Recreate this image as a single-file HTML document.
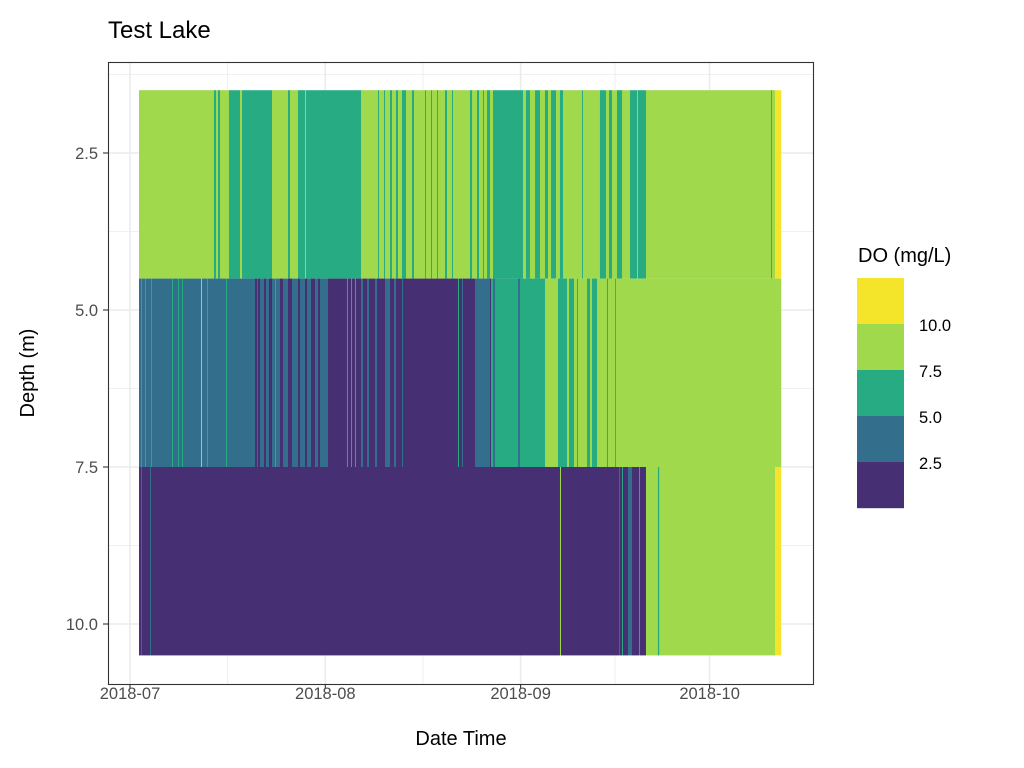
<!DOCTYPE html>
<html><head><meta charset="utf-8"><style>
html,body{margin:0;padding:0;background:#fff;}
svg{display:block;font-family:"Liberation Sans",sans-serif;}
</style></head><body>
<svg id="chart" width="1024" height="768">
<rect x="0" y="0" width="1024" height="768" fill="#fff"/>
<text x="108" y="38" font-size="24" fill="#000">Test Lake</text>
<g id="grid"></g>
<g id="tiles"></g>
<rect x="108.5" y="62.5" width="705" height="622" fill="none" stroke="#333" stroke-width="1.1"/>
<g id="axes"></g>
<text x="461" y="745" font-size="20" text-anchor="middle" fill="#000">Date Time</text>
<text transform="translate(34,373) rotate(-90)" font-size="20" text-anchor="middle" fill="#000">Depth (m)</text>
<g id="legend">
<text x="858" y="262" font-size="20" fill="#000">DO (mg/L)</text>
</g>
</svg>
<script>
const palette = ["#462F72","#336F8C","#27AB82","#A0D94B","#F4E52B"];
const legendLabels = ["10.0","7.5","5.0","2.5"];
const depths = [3, 6, 9];
const endDay = 103.33;
const xTickDays = [0, 31, 62, 92];
const xTickLabels = ["2018-07","2018-08","2018-09","2018-10"];
const xMinorDays = [15.5, 46.5, 77];
const yTicks = [2.5, 5.0, 7.5, 10.0];
const yTickLabels = ["2.5","5.0","7.5","10.0"];
const yMinor = [1.25, 3.75, 6.25, 8.75];
// [startDay, class] change points, days since 2018-07-01
const row3m = [[1.43,3],[13.33,2],[13.65,3],[13.97,2],[14.29,3],[15.71,2],[17.46,3],[17.78,2],[22.54,3],[25.08,2],[25.40,3],[26.67,2],[27.78,3],[27.94,2],[36.67,3],[39.37,2],[39.52,3],[40.32,2],[40.48,3],[41.27,2],[41.59,3],[42.22,2],[42.54,3],[43.17,2],[43.81,3],[44.76,2],[45.08,3],[46.83,2],[46.98,3],[47.78,2],[47.94,3],[48.73,2],[48.89,3],[50.0,2],[50.32,3],[51.11,2],[51.27,3],[53.97,2],[54.29,3],[55.08,2],[55.40,3],[56.03,2],[56.19,3],[56.67,2],[57.14,3],[57.62,2],[62.38,3],[62.86,2],[63.49,3],[64.29,2],[65.08,3],[65.87,2],[66.35,3],[66.83,2],[67.62,3],[68.25,2],[68.73,3],[71.75,2],[71.90,3],[74.60,2],[75.56,3],[76.03,2],[76.51,3],[77.30,2],[78.10,3],[79.37,2],[80.48,3],[80.63,2],[81.9,3],[101.75,2],[101.90,3],[102.38,4]];
const row6m = [[1.43,1],[1.75,2],[1.90,1],[2.38,2],[2.54,1],[3.33,2],[3.49,1],[6.67,2],[6.83,1],[7.62,2],[7.78,1],[8.25,2],[8.41,1],[11.27,3],[11.43,1],[12.22,2],[12.38,1],[15.24,2],[15.40,1],[19.84,0],[20.16,1],[20.32,0],[20.63,1],[21.27,0],[21.59,1],[22.06,0],[22.54,1],[23.02,2],[23.17,1],[23.81,0],[24.29,1],[25.08,0],[25.71,1],[26.67,0],[26.98,1],[27.78,0],[28.10,1],[28.73,0],[29.37,1],[29.84,0],[30.16,1],[31.43,0],[34.44,2],[34.60,0],[35.08,2],[35.24,0],[35.71,2],[35.87,0],[36.67,1],[36.98,0],[37.62,1],[37.94,0],[38.89,1],[39.21,0],[40.48,1],[41.27,0],[41.90,1],[42.22,0],[43.17,1],[43.33,0],[52.06,2],[52.22,0],[52.70,1],[52.86,0],[54.76,1],[57.14,0],[57.30,2],[57.62,1],[57.94,2],[61.59,1],[61.90,2],[65.87,3],[67.94,2],[69.37,3],[69.68,2],[70.48,3],[70.95,2],[71.11,3],[72.54,2],[73.02,3],[73.33,2],[74.13,3],[75.71,2],[75.87,3],[77.0,2],[77.14,3]];
const row9m = [[1.43,0],[1.75,1],[1.90,0],[3.17,1],[3.33,0],[68.25,3],[68.41,0],[77.62,1],[77.78,0],[78.10,2],[78.25,0],[79.05,1],[79.68,0],[80.79,2],[80.95,0],[81.9,3],[83.8,2],[84.0,3],[102.38,4]];
const rows = [row3m, row6m, row9m];

const NS = "http://www.w3.org/2000/svg";
const X0 = 130, PXD = 6.3;
function xs(d){ return X0 + d*PXD; }
function ys(dep){ return 153 + (dep-2.5)*62.8; }
function mk(tag, attrs, parent){
  const e = document.createElementNS(NS, tag);
  for (const k in attrs) e.setAttribute(k, attrs[k]);
  parent.appendChild(e); return e;
}
const grid = document.getElementById('grid');
const tiles = document.getElementById('tiles');
const axes = document.getElementById('axes');
const legend = document.getElementById('legend');

yMinor.forEach(v=>{ const l = mk('line',{x1:108,x2:813,y1:ys(v),y2:ys(v),stroke:'#ebebeb','stroke-width':0.8},grid);

 });
xMinorDays.forEach(v=>{ const l = mk('line',{x1:xs(v),x2:xs(v),y1:62,y2:684,stroke:'#ebebeb','stroke-width':0.8},grid);

 });
yTicks.forEach(v=>{ const l = mk('line',{x1:108,x2:813,y1:ys(v),y2:ys(v),stroke:'#ebebeb','stroke-width':1.6},grid);

 });
xTickDays.forEach(v=>{ const l = mk('line',{x1:xs(v),x2:xs(v),y1:62,y2:684,stroke:'#ebebeb','stroke-width':1.6},grid);

 });

rows.forEach((row, ri)=>{
  const dep = depths[ri];
  const yTop = ys(dep-1.5), yBot = ys(dep+1.5);
  row.forEach((seg, i)=>{
    const s = seg[0];
    const e = (i+1 < row.length) ? row[i+1][0] : endDay;
    const r = mk('rect',{x:xs(s),y:yTop,width:Math.max(0.5,xs(e)-xs(s))+0.3,height:yBot-yTop,fill:palette[seg[1]]},tiles);
    
    
  });
});

xTickDays.forEach((d,i)=>{
  const t = mk('line',{x1:xs(d),x2:xs(d),y1:684,y2:689,stroke:'#333','stroke-width':1.1},axes);
  
  
  const lb = mk('text',{x:xs(d),y:699,'font-size':16.5,'text-anchor':'middle',fill:'#4d4d4d'},axes);
  lb.textContent = xTickLabels[i];
  
  
});
yTicks.forEach((v,i)=>{
  const t = mk('line',{x1:103,x2:108,y1:ys(v),y2:ys(v),stroke:'#333','stroke-width':1.1},axes);
  
  
  const lb = mk('text',{x:98,y:ys(v)+6,'font-size':16.5,'text-anchor':'end',fill:'#4d4d4d'},axes);
  lb.textContent = yTickLabels[i];
  
  
});

for (let i=0;i<5;i++){
  const r = mk('rect',{x:857,y:278+i*46,width:47,height:46.2,fill:palette[4-i]},legend);
  
  
}
legendLabels.forEach((s,i)=>{
  const t = mk('text',{x:919,y:331+i*46,'font-size':16.5,fill:'#000'},legend);
  t.textContent = s;
  
  
});
</script>
</body></html>
